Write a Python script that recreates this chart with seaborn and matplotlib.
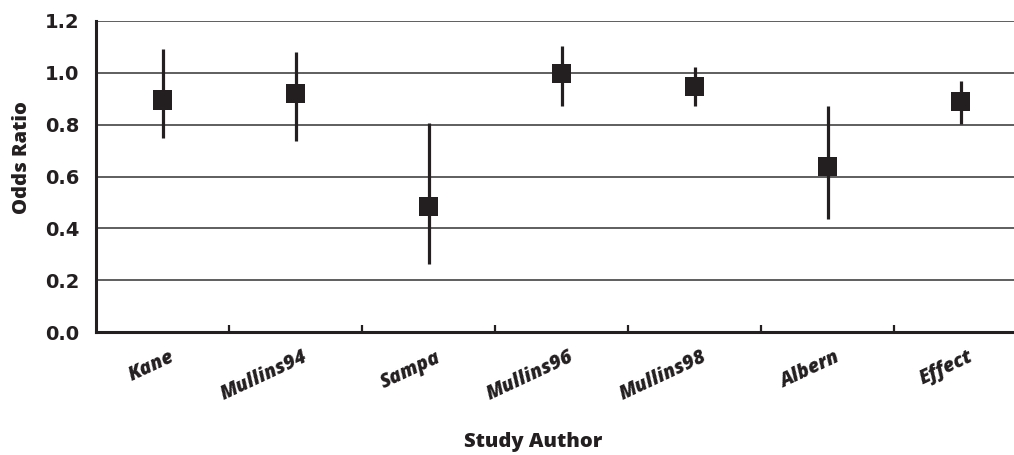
import matplotlib
matplotlib.use("Agg")
import matplotlib.pyplot as plt
import matplotlib.transforms as mtransforms
import seaborn as sns
import pandas as pd
from matplotlib.ticker import FixedLocator

# ---- data ----
authors = ["Kane", "Mullins94", "Sampa", "Mullins96", "Mullins98", "Albern", "Effect"]
odds_ratio = [0.895, 0.921, 0.483, 0.998, 0.946, 0.638, 0.889]
ci_low = [0.750, 0.738, 0.261, 0.872, 0.872, 0.436, 0.801]
ci_high = [1.092, 1.079, 0.805, 1.103, 1.021, 0.872, 0.970]
y_ticks = [0.0, 0.2, 0.4, 0.6, 0.8, 1.0, 1.2]

df = pd.DataFrame({"author": authors, "or": odds_ratio, "lo": ci_low, "hi": ci_high})

sns.set_theme(style="white")
plt.rcParams["font.family"] = ["Open Sans", "DejaVu Sans"]

ink = "#231f20"
fig = plt.figure(figsize=(10.14, 4.55), dpi=100)
ax = fig.add_axes([96 / 1014, 123 / 455, 931 / 1014, 311 / 455])

# confidence interval lines
ax.vlines(df["author"], df["lo"], df["hi"], color=ink, linewidth=2.3, zorder=3)
# point estimates
sns.scatterplot(data=df, x="author", y="or", marker="s", s=190, color=ink,
                edgecolor="none", linewidth=0, zorder=4, ax=ax, legend=False)

ax.set_xlim(-0.5, len(authors) - 0.5)
ax.set_ylim(0, 1.2)
ax.set_yticks(y_ticks)
ax.set_yticklabels([f"{v:.1f}" for v in y_ticks], fontsize=14, fontweight="bold",
                   family=["DejaVu Sans"], color=ink)
ax.yaxis.grid(True, color="#333333", linewidth=1.1)
ax.set_axisbelow(True)

for s in ["top", "right"]:
    ax.spines[s].set_visible(False)
for s in ["left", "bottom"]:
    ax.spines[s].set_color(ink)
    ax.spines[s].set_linewidth(2.2)

ax.tick_params(axis="y", length=0, pad=12, colors=ink)
ax.tick_params(axis="x", which="major", length=0, pad=11)
ax.xaxis.set_minor_locator(FixedLocator([i + 0.5 for i in range(len(authors) - 1)]))
ax.tick_params(axis="x", which="minor", direction="in", length=5, width=1.6,
               color=ink, bottom=True)

ax.set_xticks(range(len(authors)))
offset = mtransforms.ScaledTranslation(7 / 100, 0, fig.dpi_scale_trans)
ax.set_xticklabels(authors, rotation=25, ha="right", va="top",
                   rotation_mode="anchor", fontsize=14, fontweight="heavy",
                   fontstyle="italic", color=ink)
for lab in ax.get_xticklabels():
    lab.set_transform(lab.get_transform() + offset)

ax.set_xlabel("Study Author", fontsize=14.5, fontweight="heavy", color=ink, va="center")
ax.xaxis.set_label_coords((533 - 96) / 931, (332 - 442) / 311)
ax.set_ylabel("Odds Ratio", fontsize=14.5, fontweight="heavy", color=ink, va="center")
ax.yaxis.set_label_coords((22 - 96) / 931, (332 - 158) / 311)

fig.savefig("out.png", dpi=100)
